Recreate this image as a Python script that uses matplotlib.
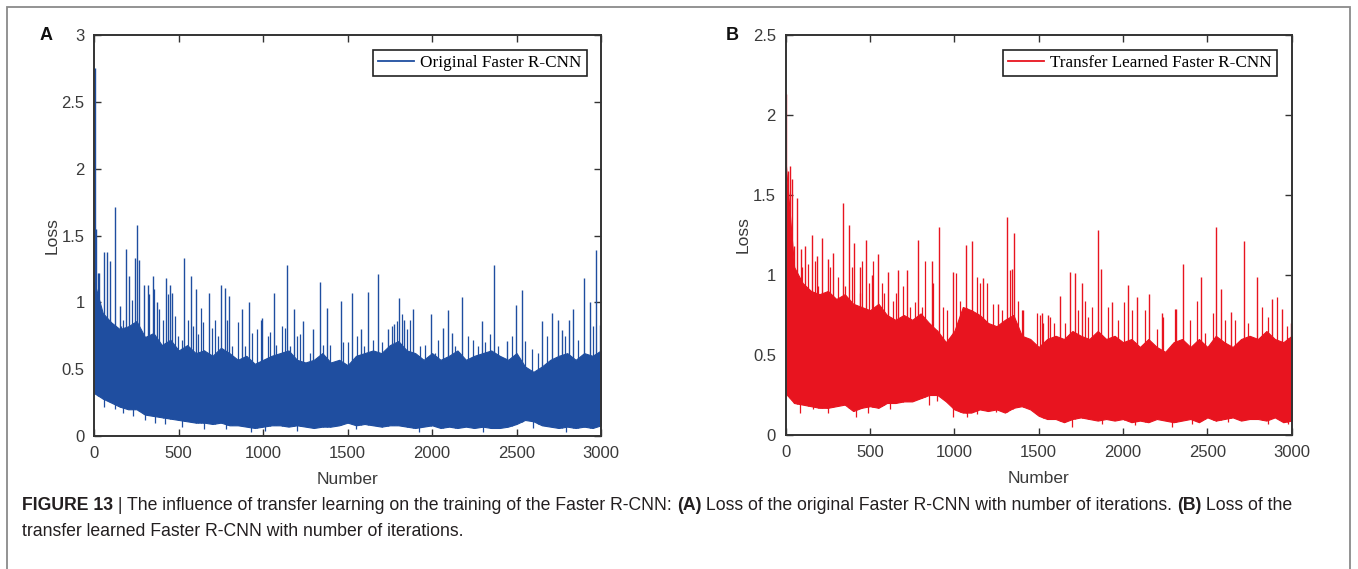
import numpy as np
import matplotlib
matplotlib.use('Agg')
import matplotlib.pyplot as plt
from matplotlib.lines import Line2D
from matplotlib.patches import Rectangle

# ─── data ────────────────────────────────────────────────────────────────────
band_iter = list(range(0, 3001, 50))

# panel A: original Faster R-CNN
a_upper = [1.15, 0.92, 0.85, 0.80, 0.82, 0.86, 0.74, 0.77, 0.68, 0.72,
           0.64, 0.68, 0.62, 0.64, 0.60, 0.66, 0.62, 0.57, 0.60, 0.54,
           0.57, 0.60, 0.62, 0.64, 0.57, 0.55, 0.57, 0.62, 0.55, 0.57,
           0.53, 0.60, 0.62, 0.64, 0.62, 0.68, 0.71, 0.64, 0.62, 0.57,
           0.62, 0.57, 0.60, 0.64, 0.57, 0.60, 0.62, 0.64, 0.60, 0.57,
           0.62, 0.52, 0.48, 0.52, 0.57, 0.60, 0.62, 0.57, 0.62, 0.60, 0.64]
a_lower = [0.32, 0.28, 0.25, 0.22, 0.20, 0.20, 0.16, 0.15, 0.14, 0.13,
           0.12, 0.11, 0.10, 0.10, 0.09, 0.10, 0.08, 0.08, 0.07, 0.06,
           0.07, 0.08, 0.08, 0.07, 0.08, 0.07, 0.06, 0.07, 0.07, 0.08,
           0.10, 0.08, 0.09, 0.08, 0.07, 0.08, 0.08, 0.07, 0.06, 0.07,
           0.08, 0.06, 0.07, 0.06, 0.07, 0.06, 0.07, 0.06, 0.06, 0.07,
           0.09, 0.12, 0.11, 0.08, 0.07, 0.06, 0.07, 0.06, 0.07, 0.06, 0.08]
# tall spikes
a_spike_iter = [2, 10, 22, 30, 58, 73, 93, 122, 152, 185, 205, 243, 250, 262,
                294, 318, 345, 370, 425, 448, 462, 530, 573, 602, 679, 750,
                774, 800, 872, 915, 995, 1063, 1143, 1183, 1238, 1293, 1339,
                1380, 1459, 1528, 1579, 1622, 1677, 1737, 1776, 1806, 1835,
                1889, 1991, 2066, 2092, 2116, 2175, 2293, 2368, 2441, 2494,
                2530, 2648, 2711, 2743, 2767, 2810, 2836, 2901, 2935, 2968, 2994]
a_spike_loss = [2.75, 1.55, 1.22, 1.22, 1.38, 1.38, 1.31, 1.71, 0.97, 1.40,
                1.20, 1.33, 1.58, 1.32, 1.13, 1.13, 1.20, 1.00, 1.18, 1.13,
                1.07, 1.33, 1.20, 1.10, 1.07, 1.13, 1.11, 1.05, 0.95, 1.00,
                0.88, 1.07, 1.28, 0.95, 0.86, 0.80, 1.15, 0.96, 1.01, 1.07,
                0.80, 1.08, 1.21, 0.80, 0.84, 1.03, 0.87, 0.95, 0.91, 0.81,
                0.94, 0.77, 1.04, 0.86, 1.28, 0.71, 0.98, 1.09, 0.86, 0.92,
                0.87, 0.79, 0.87, 0.95, 1.18, 1.00, 1.39, 0.83]
# medium spikes just above the dense band
a_mid_iter = [50, 142, 158, 172, 221, 296, 326, 355, 383, 409, 438, 478, 498,
              517, 557, 586, 616, 632, 645, 695, 715, 734, 788, 813, 849, 892,
              932, 961, 985, 1026, 1040, 1076, 1113, 1129, 1159, 1198, 1218,
              1277, 1356, 1396, 1474, 1504, 1553, 1599, 1652, 1701, 1761, 1790,
              1820, 1850, 1869, 1928, 1958, 2017, 2037, 2136, 2215, 2245, 2274,
              2313, 2343, 2392, 2471, 2550, 2590, 2629, 2678, 2787, 2866, 2954]
a_mid_loss = [0.90, 0.77, 0.82, 0.87, 1.02, 0.70, 1.06, 1.10, 0.95, 0.87,
              1.06, 0.90, 0.75, 0.72, 0.87, 0.82, 0.76, 0.96, 0.85, 0.81,
              0.87, 0.75, 0.87, 0.67, 0.85, 0.67, 0.77, 0.80, 0.87, 0.75,
              0.78, 0.68, 0.82, 0.81, 0.67, 0.75, 0.76, 0.62, 0.68, 0.68,
              0.70, 0.70, 0.75, 0.67, 0.72, 0.70, 0.82, 0.86, 0.91, 0.80,
              0.87, 0.67, 0.68, 0.62, 0.72, 0.67, 0.75, 0.72, 0.67, 0.70,
              0.76, 0.67, 0.75, 0.71, 0.65, 0.62, 0.75, 0.75, 0.72, 0.82]
# dips below the dense band
a_dip_iter = [60, 120, 170, 230, 300, 360, 420, 520, 650, 780, 930, 1010,
              1200, 1550, 1920, 2300, 2600, 2790]
a_dip_loss = [0.22, 0.20, 0.17, 0.15, 0.12, 0.10, 0.09, 0.07, 0.05, 0.05,
              0.03, 0.04, 0.04, 0.05, 0.03, 0.03, 0.06, 0.03]

# panel B: transfer learned Faster R-CNN
b_upper = [1.70, 1.05, 0.95, 0.90, 0.88, 0.90, 0.85, 0.88, 0.82, 0.80,
           0.78, 0.82, 0.75, 0.72, 0.75, 0.72, 0.76, 0.70, 0.65, 0.58,
           0.65, 0.80, 0.78, 0.75, 0.70, 0.68, 0.72, 0.75, 0.62, 0.60,
           0.55, 0.60, 0.62, 0.60, 0.65, 0.62, 0.60, 0.65, 0.60, 0.62,
           0.58, 0.60, 0.55, 0.60, 0.55, 0.52, 0.58, 0.60, 0.55, 0.60,
           0.55, 0.62, 0.58, 0.55, 0.60, 0.62, 0.60, 0.65, 0.60, 0.58, 0.62]
b_lower = [0.26, 0.20, 0.19, 0.18, 0.17, 0.17, 0.18, 0.19, 0.15, 0.17,
           0.18, 0.17, 0.20, 0.20, 0.21, 0.21, 0.23, 0.25, 0.25, 0.21,
           0.16, 0.14, 0.14, 0.16, 0.15, 0.16, 0.14, 0.17, 0.18, 0.16,
           0.12, 0.10, 0.10, 0.08, 0.10, 0.11, 0.10, 0.09, 0.10, 0.09,
           0.10, 0.08, 0.09, 0.08, 0.10, 0.09, 0.08, 0.09, 0.10, 0.08,
           0.11, 0.09, 0.10, 0.11, 0.09, 0.10, 0.10, 0.09, 0.11, 0.08, 0.09]
b_spike_iter = [3, 12, 25, 35, 51, 69, 90, 115, 154, 185, 213, 250, 283, 338,
                375, 405, 440, 476, 510, 549, 609, 668, 717, 787, 866, 911,
                994, 1069, 1103, 1172, 1261, 1310, 1340, 1354, 1409, 1518,
                1557, 1626, 1686, 1715, 1755, 1854, 1870, 1937, 2032, 2081,
                2154, 2229, 2312, 2358, 2462, 2551, 2579, 2640, 2719, 2794,
                2885, 2940, 2996]
b_spike_loss = [2.13, 1.65, 1.68, 1.60, 1.18, 1.48, 1.16, 1.18, 1.25, 1.12,
                1.23, 1.10, 1.14, 1.45, 1.31, 1.20, 1.05, 1.22, 1.00, 1.13,
                1.02, 1.03, 1.03, 1.22, 1.09, 1.30, 1.02, 1.19, 1.21, 0.98,
                0.82, 1.36, 1.04, 1.26, 0.78, 0.76, 0.75, 0.87, 1.02, 1.01,
                0.95, 1.28, 1.04, 0.83, 0.94, 0.86, 0.88, 0.76, 0.79, 1.07,
                0.99, 1.30, 0.91, 0.77, 1.21, 0.99, 0.85, 0.79, 0.70]
b_mid_iter = [95, 134, 174, 194, 243, 263, 312, 352, 391, 441, 451, 496, 520,
              569, 583, 638, 654, 694, 737, 767, 806, 826, 875, 931, 955, 1010,
              1034, 1132, 1152, 1192, 1231, 1281, 1330, 1379, 1399, 1488, 1508,
              1528, 1567, 1593, 1656, 1731, 1775, 1794, 1814, 1909, 1972, 2008,
              2051, 2130, 2200, 2239, 2308, 2397, 2437, 2486, 2536, 2605, 2664,
              2743, 2822, 2861, 2911, 2970]
b_mid_loss = [1.05, 1.07, 1.09, 0.93, 0.86, 1.05, 0.99, 0.93, 1.05, 0.89,
              1.09, 0.95, 1.09, 0.95, 0.89, 0.84, 0.89, 0.93, 0.80, 0.83,
              0.80, 1.09, 0.95, 0.80, 0.78, 1.01, 0.84, 0.99, 0.95, 0.95,
              0.82, 0.78, 1.03, 0.84, 0.78, 0.76, 0.75, 0.70, 0.74, 0.70,
              0.70, 0.78, 0.84, 0.74, 0.80, 0.80, 0.72, 0.83, 0.78, 0.78,
              0.66, 0.74, 0.79, 0.72, 0.84, 0.64, 0.76, 0.72, 0.72, 0.70,
              0.80, 0.74, 0.86, 0.68]
b_dip_iter = [85, 164, 253, 417, 490, 619, 850, 895, 994, 1073, 1132, 1247,
              1350, 1695, 1874, 2071, 2289, 2407, 2625, 2861, 2980]
b_dip_loss = [0.135, 0.16, 0.135, 0.115, 0.135, 0.16, 0.19, 0.21, 0.115, 0.115,
              0.13, 0.145, 0.16, 0.05, 0.07, 0.06, 0.05, 0.07, 0.08, 0.07, 0.07]

x_ticks = [0, 500, 1000, 1500, 2000, 2500, 3000]
a_yticks = [0, 0.5, 1, 1.5, 2, 2.5, 3]
b_yticks = [0, 0.5, 1, 1.5, 2, 2.5]

W, H = 1358, 569
fig = plt.figure(figsize=(W / 100, H / 100), dpi=100)
fig.patch.set_facecolor('white')

SANS = ['Liberation Sans', 'DejaVu Sans']
SERIF = ['Liberation Serif', 'DejaVu Serif']


def px(x0, y0, x1, y1):
    return [x0 / W, 1 - y1 / H, (x1 - x0) / W, (y1 - y0) / H]


def panel(rect, upper, lower, spikes, mids, dips, color, yticks, label, leg_x,
          letter, letter_x):
    ax = fig.add_axes(rect)
    ax.fill_between(band_iter, lower, upper, color=color, linewidth=0.8,
                    edgecolor=color, zorder=2)
    for (it, val), lw in [(spikes, 1.0), (mids, 0.9)]:
        base = np.interp(it, band_iter, lower)
        ax.vlines(it, base, val, color=color, linewidth=lw, zorder=2)
    it, val = dips
    top = np.interp(it, band_iter, upper)
    ax.vlines(it, val, top, color=color, linewidth=0.9, zorder=2)
    ax.set_xlim(0, 3000)
    ax.set_ylim(0, yticks[-1])
    ax.set_xticks(x_ticks)
    ax.set_xticklabels([str(t) for t in x_ticks])
    ax.set_yticks(yticks)
    ax.set_yticklabels(['%g' % t for t in yticks])
    ax.tick_params(direction='in', top=True, right=True, length=5, width=1.0,
                   color='#333333', labelcolor='#3a3a3a', labelsize=12, pad=7)
    for lab in ax.get_xticklabels() + ax.get_yticklabels():
        lab.set_family(SANS)
    for sp in ax.spines.values():
        sp.set_edgecolor('#333333')
        sp.set_linewidth(1.4)
    ax.set_xlabel('Number', fontsize=12.5, color='#3a3a3a', family=SANS, labelpad=8)
    ax.set_ylabel('Loss', fontsize=12.5, color='#3a3a3a', family=SANS, labelpad=1.5)
    h = Line2D([], [], color=color, linewidth=1.3)
    leg = ax.legend([h], [label], loc='upper right', bbox_to_anchor=(leg_x, 0.962),
                    borderaxespad=0, fancybox=False, framealpha=1,
                    edgecolor='#222222', handlelength=2.1, handletextpad=0.35,
                    borderpad=0.3, prop={'family': SERIF, 'size': 12.3})
    leg.get_frame().set_linewidth(1.2)
    fig.text(letter_x / W, 1 - 35 / H, letter, fontsize=13, fontweight='bold',
             family=SANS, ha='left', va='center', color='#111111')
    return ax


panel(px(94.3, 35, 601, 436), a_upper, a_lower,
      (a_spike_iter, a_spike_loss), (a_mid_iter, a_mid_loss), (a_dip_iter, a_dip_loss),
      '#1f4ea0', a_yticks, 'Original Faster R-CNN', 0.972, 'A', 40)
panel(px(785.7, 35, 1291.7, 435), b_upper, b_lower,
      (b_spike_iter, b_spike_loss), (b_mid_iter, b_mid_loss), (b_dip_iter, b_dip_loss),
      '#e8141f', b_yticks, 'Transfer Learned Faster R-CNN', 0.971, 'B', 726)

# outer frame
fig.add_artist(Rectangle((7 / W, -0.1), (1350 - 7) / W, 1.1 - 7 / H,
                         transform=fig.transFigure, fill=False,
                         edgecolor='#8a8a8a', linewidth=1.3))

# caption, drawn segment by segment so the bold parts line up
CAP_FONT = ['Liberation Sans Narrow', 'Liberation Sans', 'DejaVu Sans']
line1 = [('FIGURE 13', 'bold'),
         (' | The influence of transfer learning on the training of the Faster R-CNN: ', 'normal'),
         ('(A)', 'bold'),
         (' Loss of the original Faster R-CNN with number of iterations. ', 'normal'),
         ('(B)', 'bold'),
         (' Loss of the', 'normal')]
line2 = [('transfer learned Faster R-CNN with number of iterations.', 'normal')]

fig.canvas.draw()
renderer = fig.canvas.get_renderer()


def write_line(y_px, segs, size):
    x = 22
    texts = []
    for txt, weight in segs:
        t = fig.text(x / W, 1 - y_px / H, txt, fontsize=size, fontweight=weight,
                     family=CAP_FONT, ha='left', va='center', color='#231f20')
        x += t.get_window_extent(renderer=renderer).width
        texts.append(t)
    return x, texts


# fit line 1 to the same width as the reference caption
end, tmp = write_line(506, line1, 10.5)
for t in tmp:
    t.remove()
cap_size = 10.5 * (1305 - 22) / (end - 22)
write_line(506, line1, cap_size)
write_line(532, line2, cap_size)

fig.savefig('out.png', dpi=100, facecolor='white')
